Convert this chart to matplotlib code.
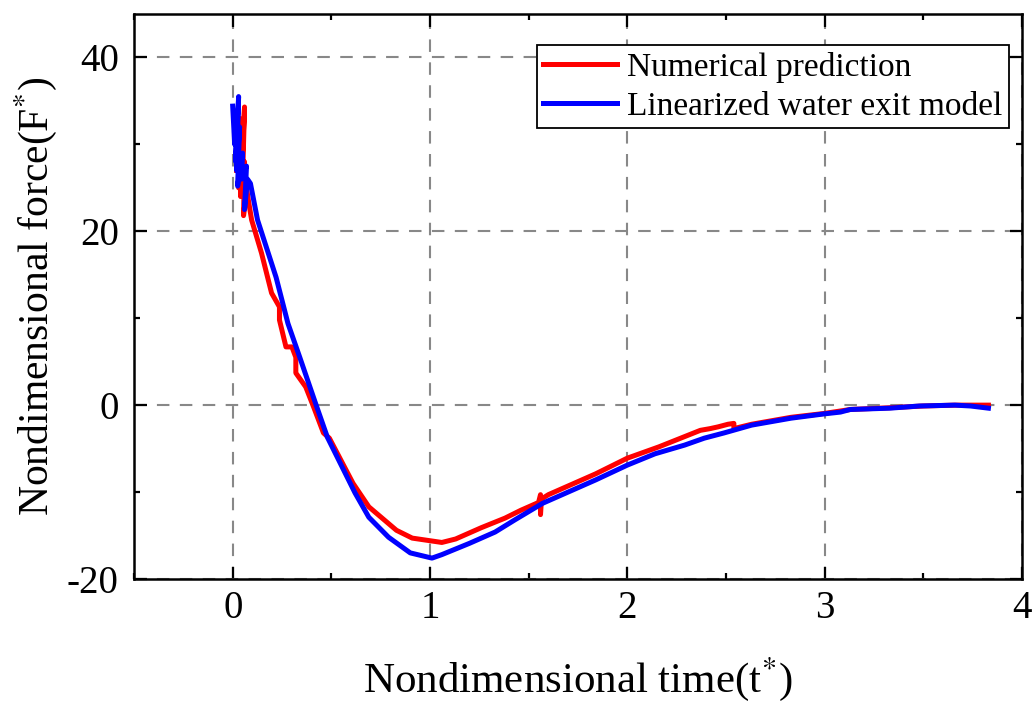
import numpy as np
import matplotlib.pyplot as plt
from matplotlib.ticker import MultipleLocator

# Numerical prediction (red)
t_num = [0.02, 0.035, 0.03, 0.045, 0.04, 0.06, 0.05, 0.06, 0.055, 0.07, 0.08,
         0.096, 0.146, 0.197, 0.237, 0.237, 0.27, 0.30, 0.32, 0.32, 0.37, 0.41,
         0.46, 0.49, 0.61, 0.69, 0.83, 0.91, 1.06, 1.13, 1.26, 1.38, 1.46, 1.55,
         1.56, 1.56, 1.565, 1.60, 1.67, 1.84, 2.0, 2.16, 2.37, 2.42, 2.46, 2.51,
         2.54, 2.54, 2.63, 2.83, 3.0, 3.13, 3.33, 3.5, 3.66, 3.83]
F_num = [27.0, 33.0, 25.0, 30.0, 24.0, 34.3, 26.0, 28.0, 21.8, 25.0, 23.5,
         21.3, 17.5, 12.9, 11.3, 9.8, 6.7, 6.7, 5.5, 3.7, 2.1, -0.2,
         -3.2, -3.8, -9.0, -11.7, -14.4, -15.3, -15.8, -15.4, -14.1, -13.0, -12.1, -11.2,
         -10.3, -12.6, -10.8, -10.3, -9.6, -7.9, -6.1, -4.8, -2.9, -2.7, -2.5, -2.2,
         -2.1, -2.7, -2.2, -1.4, -0.95, -0.5, -0.3, -0.1, 0.0, 0.0]

# Linearized water exit model (blue)
t_lin = [0.0, 0.01, 0.02, 0.015, 0.03, 0.02, 0.035, 0.025, 0.05, 0.045, 0.07,
         0.06, 0.075, 0.09, 0.126, 0.22, 0.28, 0.34, 0.42, 0.48, 0.62, 0.69,
         0.79, 0.90, 1.01, 1.06, 1.2, 1.33, 1.43, 1.57, 1.67, 1.84, 2.0, 2.14,
         2.29, 2.39, 2.49, 2.63, 2.83, 3.0, 3.08, 3.13, 3.33, 3.48, 3.66, 3.74, 3.83]
F_lin = [34.4, 30.0, 33.0, 28.0, 35.5, 27.0, 32.0, 25.2, 29.0, 26.0, 27.5,
         22.5, 26.0, 25.5, 21.3, 14.7, 9.4, 5.5, 0.2, -3.7, -10.1, -12.9,
         -15.2, -17.0, -17.6, -17.2, -15.9, -14.6, -13.2, -11.3, -10.3, -8.6, -6.9, -5.6,
         -4.6, -3.8, -3.2, -2.3, -1.5, -1.0, -0.8, -0.5, -0.35, -0.1, 0.0, -0.1, -0.35]

plt.rcParams['font.family'] = ['Liberation Serif', 'DejaVu Serif']
plt.rcParams['mathtext.fontset'] = 'stix'
plt.rcParams['axes.unicode_minus'] = False

fig = plt.figure(figsize=(10.35, 7.11), dpi=100)
ax = fig.add_axes([0.1295, 0.1857, 0.8579, 0.7946])

ax.plot(t_num, F_num, color='#ff0000', lw=3.6, label='Numerical prediction', zorder=3)
ax.plot(t_lin, F_lin, color='#0000ff', lw=3.6, label='Linearized water exit model', zorder=4)

ax.set_xlim(-0.5, 4)
ax.set_ylim(-20, 45)
ax.xaxis.set_major_locator(MultipleLocator(1))
ax.xaxis.set_minor_locator(MultipleLocator(0.5))
ax.yaxis.set_major_locator(MultipleLocator(20))
ax.yaxis.set_minor_locator(MultipleLocator(10))
ax.set_xticks([0, 1, 2, 3, 4])
ax.set_yticks([-20, 0, 20, 40])

# dashed grid on major ticks only
ax.grid(True, which='major', color='#888888', linestyle=(0, (6, 5)), lw=1.5)
ax.tick_params(which='both', direction='in', top=True, right=True, labelsize=28, width=1.6)
ax.tick_params(which='major', length=9, pad=8)
ax.tick_params(axis='y', which='major', pad=11)
ax.tick_params(which='minor', length=4)
for s in ax.spines.values():
    s.set_linewidth(1.8)

ax.set_xlabel('Nondimensional time(t$^{*}$)', fontsize=31, labelpad=20)
ax.set_ylabel('Nondimensional force(F$^{*}$)', fontsize=30, labelpad=6)

leg = ax.legend(loc='upper right', bbox_to_anchor=(0.985, 0.945), fontsize=24,
                frameon=True, fancybox=False, framealpha=1, edgecolor='black',
                handlelength=2.2, handletextpad=0.3, borderpad=0.2, labelspacing=0.25,
                borderaxespad=0)
leg.get_frame().set_linewidth(1.3)

fig.savefig('out.png', dpi=100)
